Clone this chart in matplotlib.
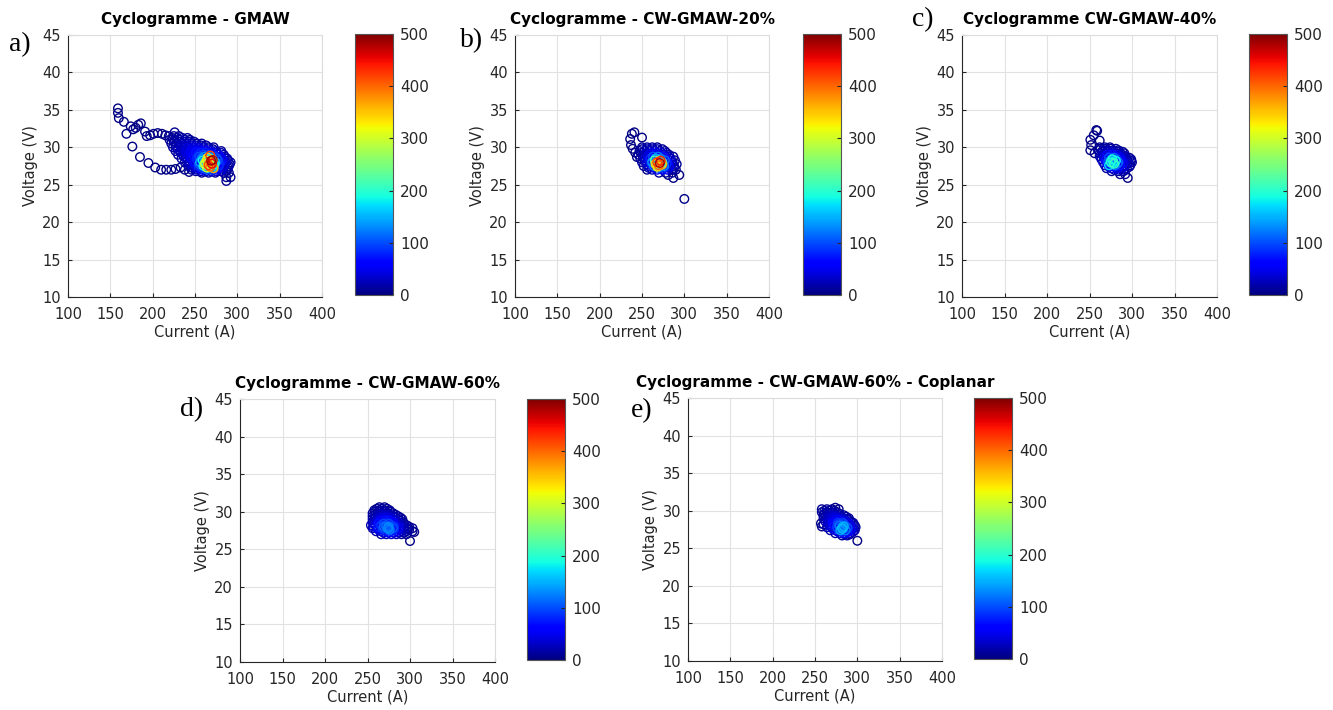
import matplotlib
matplotlib.use("Agg")
import matplotlib.pyplot as plt
from matplotlib.colors import Normalize
from matplotlib.cm import ScalarMappable

# Each panel: voltage rows, the currents on each row and the point density per point,
# plus a list of loose points (tails, outliers, hot core).

# --- a) GMAW ---
a_rows_volt = [32.0, 31.5, 31.25, 31.0, 30.75, 30.5, 30.25, 30.0, 29.75, 29.5, 29.25, 29.0,
               28.75, 28.5, 28.25, 28.0, 27.75, 27.5, 27.25, 27.0, 26.8, 26.6, 26.0, 25.5]
a_rows_cur = [
    [226],
    [219, 225, 231],
    [223, 229, 235, 241],
    [220, 226, 232, 238, 244],
    [225, 231, 237, 243, 249],
    [222, 228, 234, 240, 246, 252, 258],
    [227, 233, 239, 245, 251, 257, 263],
    [224, 230, 236, 242, 248, 254, 260, 266, 272],
    [229, 235, 241, 247, 253, 259, 265, 271],
    [227, 233, 239, 245, 251, 257, 263, 269, 275, 281],
    [233, 239, 245, 251, 257, 263, 269, 275, 281],
    [230, 236, 242, 248, 254, 260, 266, 272, 278, 284],
    [237, 243, 249, 255, 261, 267, 273, 279, 285],
    [234, 240, 246, 252, 258, 264, 270, 276, 282, 288],
    [241, 247, 253, 259, 265, 271, 277, 283, 289],
    [238, 244, 250, 256, 262, 268, 274, 280, 286, 292],
    [243, 249, 255, 261, 267, 273, 279, 285, 291],
    [242, 248, 254, 260, 266, 272, 278, 284, 290],
    [247, 253, 259, 265, 271, 277, 283, 289],
    [246, 252, 258, 264, 270, 276, 282, 288],
    [251, 257, 263, 269, 275, 281, 287],
    [258, 266, 274, 284, 290],
    [287, 292],
    [287],
]
a_rows_dens = [
    [8],
    [8, 10, 10],
    [10, 12, 12, 10],
    [10, 14, 16, 14, 10],
    [14, 18, 20, 18, 12],
    [12, 18, 22, 24, 20, 14, 10],
    [18, 26, 30, 30, 24, 16, 10],
    [14, 22, 30, 36, 38, 34, 26, 16, 10],
    [18, 30, 42, 46, 44, 36, 24, 14],
    [14, 24, 38, 48, 56, 60, 52, 38, 22, 12],
    [18, 34, 54, 70, 80, 76, 56, 32, 14],
    [14, 26, 44, 62, 78, 92, 90, 70, 42, 18],
    [20, 38, 66, 100, 130, 130, 90, 50, 18],
    [14, 28, 50, 80, 130, 170, 160, 100, 50, 18],
    [22, 42, 80, 180, 250, 220, 100, 44, 16],
    [16, 30, 60, 140, 220, 260, 160, 70, 30, 12],
    [24, 46, 110, 240, 300, 200, 80, 34, 14],
    [18, 34, 80, 180, 240, 170, 80, 36, 16],
    [20, 40, 90, 170, 150, 70, 32, 14],
    [14, 28, 60, 100, 90, 50, 28, 14],
    [12, 18, 30, 34, 24, 16, 10],
    [10, 14, 12, 10, 8],
    [8, 8],
    [6],
]
a_loose_cur = [159, 159, 160, 166, 169, 174, 177, 180, 183, 186, 191, 193, 197, 201, 206, 211, 215,
               176, 185, 195, 203, 210, 216, 222, 227, 233, 238, 243,
               264, 268, 270, 266, 262, 268, 271, 265, 268, 272, 264, 269]
a_loose_volt = [35.2, 34.6, 33.9, 33.4, 31.8, 32.8, 32.4, 32.6, 33.0, 33.2, 32.1, 31.5, 31.6, 31.8,
                31.9, 31.8, 31.6,
                30.1, 28.7, 27.9, 27.3, 27.0, 27.0, 27.0, 27.1, 27.3, 27.0, 26.7,
                28.2, 28.0, 27.8, 27.6, 27.8, 27.4, 28.3, 28.6, 28.9, 27.2, 27.3, 28.2]
a_loose_dens = [3] * 28 + [320, 380, 450, 420, 300, 400, 470, 340, 420, 360, 300, 490]

# --- b) CW-GMAW-20% ---
b_rows_volt = [30.0, 29.75, 29.5, 29.25, 29.0, 28.75, 28.5, 28.25, 28.0, 27.75, 27.5, 27.25,
               27.0, 26.6]
b_rows_cur = [
    [250, 256, 262, 268],
    [250, 256, 262, 268, 274],
    [247, 253, 259, 265, 271, 277],
    [249, 255, 261, 267, 273, 279],
    [246, 252, 258, 264, 270, 276, 282],
    [251, 257, 263, 269, 275, 281, 287],
    [248, 254, 260, 266, 272, 278, 284],
    [253, 259, 265, 271, 277, 283, 289],
    [250, 256, 262, 268, 274, 280, 286],
    [255, 261, 267, 273, 279, 285, 291],
    [252, 258, 264, 270, 276, 282, 288],
    [258, 264, 270, 276, 282, 288],
    [256, 262, 268, 274, 280, 286, 290],
    [270, 278, 286],
]
b_rows_dens = [
    [10, 14, 14, 10],
    [12, 20, 22, 16, 10],
    [10, 18, 26, 26, 18, 10],
    [14, 28, 44, 48, 34, 16],
    [10, 20, 40, 56, 48, 28, 12],
    [16, 44, 100, 120, 70, 26, 10],
    [12, 30, 80, 150, 120, 50, 16],
    [18, 70, 220, 260, 110, 36, 12],
    [12, 40, 140, 300, 220, 70, 20],
    [20, 80, 250, 230, 80, 30, 10],
    [12, 30, 120, 260, 130, 50, 16],
    [14, 40, 110, 80, 36, 14],
    [10, 20, 50, 60, 34, 14, 8],
    [10, 12, 8],
]
b_loose_cur = [236, 238, 241, 237, 239, 242, 244, 250, 300, 294, 287, 281,
               268, 271, 270, 266, 272, 268, 274]
b_loose_volt = [31.1, 31.8, 32.0, 30.3, 29.8, 29.3, 28.7, 31.3, 23.1, 26.3, 25.9, 26.3,
                28.0, 27.9, 27.6, 27.8, 28.2, 27.4, 27.7]
b_loose_dens = [3, 3, 3, 3, 3, 3, 4, 3, 2, 3, 3, 4,
                420, 480, 400, 340, 440, 330, 360]

# --- c) CW-GMAW-40% ---
c_rows_volt = [30.0, 29.8, 29.6, 29.4, 29.2, 29.0, 28.8, 28.6, 28.4, 28.2, 28.0, 27.8, 27.6,
               27.4, 27.2, 27.0, 26.8, 26.4]
c_rows_cur = [
    [262, 268, 274],
    [263, 269, 275, 281],
    [260, 266, 272, 278, 284],
    [265, 271, 277, 283, 289],
    [262, 268, 274, 280, 286, 291],
    [265, 271, 277, 283, 289],
    [262, 268, 274, 280, 286, 292],
    [267, 273, 279, 285, 291, 297],
    [264, 270, 276, 282, 288, 294, 299],
    [269, 275, 281, 287, 293, 299],
    [266, 272, 278, 284, 290, 296, 300],
    [271, 277, 283, 289, 295],
    [268, 274, 280, 286, 292, 298],
    [273, 279, 285, 291, 297],
    [270, 276, 282, 288, 294],
    [279, 285, 291],
    [276, 284, 290],
    [286, 292],
]
c_rows_dens = [
    [8, 12, 10],
    [10, 14, 14, 10],
    [10, 16, 20, 14, 10],
    [18, 28, 26, 18, 10],
    [14, 26, 34, 28, 16, 10],
    [26, 50, 60, 40, 20],
    [16, 40, 70, 60, 30, 14],
    [40, 100, 110, 60, 26, 12],
    [20, 70, 130, 90, 40, 16, 10],
    [60, 150, 130, 60, 26, 12],
    [24, 100, 180, 110, 44, 18, 12],
    [60, 150, 100, 44, 20],
    [20, 80, 120, 70, 30, 14],
    [40, 70, 50, 24, 12],
    [14, 36, 50, 34, 16],
    [20, 24, 16],
    [10, 14, 12],
    [8, 8],
]
c_loose_cur = [251, 252, 251, 255, 258, 259, 262, 256, 295,
               275, 277, 279, 273, 281]
c_loose_volt = [31.0, 30.3, 29.6, 31.6, 32.3, 32.2, 30.9, 29.2, 25.9,
                28.0, 28.4, 27.8, 27.6, 28.2]
c_loose_dens = [3, 3, 3, 3, 3, 4, 3, 4, 3,
                200, 190, 210, 170, 180]

# --- d) CW-GMAW-60% ---
d_rows_volt = [30.6, 30.4, 30.2, 30.0, 29.8, 29.6, 29.4, 29.2, 29.0, 28.8, 28.6, 28.4, 28.2,
               28.0, 27.8, 27.6, 27.4, 27.2, 27.0]
d_rows_cur = [
    [264, 270],
    [261, 267, 273],
    [258, 264, 270, 276],
    [259, 265, 271, 277],
    [256, 262, 268, 274, 280],
    [259, 265, 271, 277, 283],
    [256, 262, 268, 274, 280, 286],
    [259, 265, 271, 277, 283, 289],
    [256, 262, 268, 274, 280, 286, 291],
    [259, 265, 271, 277, 283, 289],
    [256, 262, 268, 274, 280, 286, 292],
    [257, 263, 269, 275, 281, 287, 293],
    [254, 260, 266, 272, 278, 284, 290, 296],
    [257, 263, 269, 275, 281, 287, 293, 299],
    [256, 262, 268, 274, 280, 286, 292, 298, 303],
    [263, 269, 275, 281, 287, 293, 299],
    [260, 266, 272, 278, 284, 290, 296, 303],
    [269, 275, 281, 287, 293],
    [266, 272, 278, 284, 290, 296],
]
d_rows_dens = [
    [6, 8],
    [8, 12, 10],
    [8, 12, 12, 8],
    [10, 16, 16, 10],
    [10, 16, 20, 18, 10],
    [14, 26, 28, 20, 10],
    [12, 22, 30, 30, 20, 10],
    [20, 40, 46, 36, 20, 10],
    [14, 30, 46, 50, 36, 16, 8],
    [26, 56, 70, 56, 30, 14],
    [18, 40, 66, 74, 56, 26, 10],
    [30, 70, 96, 96, 66, 30, 14],
    [16, 46, 86, 100, 84, 40, 18, 10],
    [34, 76, 110, 126, 90, 40, 18, 10],
    [20, 50, 90, 120, 100, 50, 24, 12, 8],
    [40, 80, 100, 80, 40, 20, 10],
    [18, 40, 70, 80, 50, 26, 14, 8],
    [30, 46, 40, 24, 12],
    [14, 24, 30, 24, 12, 8],
]
d_loose_cur = [300, 305, 274, 276, 272]
d_loose_volt = [26.1, 27.3, 27.8, 27.6, 28.0]
d_loose_dens = [3, 4, 130, 125, 115]

# --- e) CW-GMAW-60% - Coplanar ---
e_rows_volt = [30.2, 30.0, 29.8, 29.6, 29.4, 29.2, 29.0, 28.8, 28.6, 28.4, 28.2, 28.0, 27.8,
               27.6, 27.4, 27.2, 27.0, 26.85, 26.7]
e_rows_cur = [
    [258, 264, 270],
    [261, 267, 273],
    [258, 264, 270, 276],
    [261, 267, 273, 279],
    [260, 266, 272, 278, 284],
    [263, 269, 275, 281, 287],
    [260, 266, 272, 278, 284, 290],
    [265, 271, 277, 283, 289],
    [262, 268, 274, 280, 286, 292],
    [265, 271, 277, 283, 289, 295],
    [260, 266, 272, 278, 284, 290, 296],
    [267, 273, 279, 285, 291, 297],
    [264, 270, 276, 282, 288, 294, 298],
    [271, 277, 283, 289, 295],
    [268, 274, 280, 286, 292, 297],
    [277, 283, 289, 295],
    [274, 280, 286, 292],
    [285, 291],
    [282, 288],
]
e_rows_dens = [
    [8, 10, 8],
    [12, 14, 10],
    [10, 16, 14, 10],
    [14, 20, 22, 12],
    [12, 22, 26, 16, 8],
    [20, 34, 36, 22, 10],
    [14, 28, 40, 36, 20, 10],
    [26, 46, 56, 40, 16],
    [16, 34, 56, 66, 40, 16],
    [30, 56, 86, 90, 44, 14],
    [12, 30, 60, 100, 96, 46, 16],
    [36, 70, 120, 110, 46, 14],
    [16, 40, 90, 140, 100, 40, 14],
    [40, 90, 130, 80, 30],
    [18, 46, 110, 120, 50, 16],
    [40, 80, 60, 20],
    [14, 40, 50, 24],
    [16, 12],
    [10, 14],
]
e_loose_cur = [300, 274, 278, 257, 258, 282, 284, 280]
e_loose_volt = [26.0, 30.4, 30.2, 28.3, 27.9, 27.6, 27.9, 27.4]
e_loose_dens = [3, 4, 4, 5, 5, 155, 150, 140]

titles = ["Cyclogramme - GMAW", "Cyclogramme - CW-GMAW-20%", "Cyclogramme CW-GMAW-40%",
          "Cyclogramme - CW-GMAW-60%", "Cyclogramme - CW-GMAW-60% - Coplanar"]
letters = ["a)", "b)", "c)", "d)", "e)"]
cbar_ticks = [0, 100, 200, 300, 400, 500]
x_ticks = [100, 150, 200, 250, 300, 350, 400]
y_ticks = [10, 15, 20, 25, 30, 35, 40, 45]

W, H = 1333, 710
# pixel boxes (left, top, right, bottom)
ax_boxes = [(68, 35, 322, 297), (515, 35, 769, 297), (962, 35, 1217, 297),
            (240, 399, 495, 662), (688, 398, 942, 661)]
cb_boxes = [(355, 34, 393, 295), (803, 34, 841, 295), (1249, 34, 1287, 295),
            (527, 399, 565, 660), (974, 398, 1012, 659)]
letter_pos = [(20, 45), (472, 41), (923, 20), (192, 410), (642, 411)]


def frac(box):
    l, t, r, b = box
    return [l / W, 1 - b / H, (r - l) / W, (b - t) / H]


def flatten(rows_volt, rows_cur, rows_dens, loose_cur, loose_volt, loose_dens):
    cur, volt, dens = [], [], []
    for v, cs, ds in zip(rows_volt, rows_cur, rows_dens):
        cur += cs
        volt += [v] * len(cs)
        dens += ds
    return cur + loose_cur, volt + loose_volt, dens + loose_dens


def main():
    cmap = plt.get_cmap("jet")
    norm = Normalize(vmin=0, vmax=500)
    fig = plt.figure(figsize=(W / 100, H / 100), dpi=100)

    data = [
        flatten(a_rows_volt, a_rows_cur, a_rows_dens, a_loose_cur, a_loose_volt, a_loose_dens),
        flatten(b_rows_volt, b_rows_cur, b_rows_dens, b_loose_cur, b_loose_volt, b_loose_dens),
        flatten(c_rows_volt, c_rows_cur, c_rows_dens, c_loose_cur, c_loose_volt, c_loose_dens),
        flatten(d_rows_volt, d_rows_cur, d_rows_dens, d_loose_cur, d_loose_volt, d_loose_dens),
        flatten(e_rows_volt, e_rows_cur, e_rows_dens, e_loose_cur, e_loose_volt, e_loose_dens),
    ]

    for i, (cur, volt, dens) in enumerate(data):
        ax = fig.add_axes(frac(ax_boxes[i]))
        # low density first so the hot core is drawn on top
        order = sorted(range(len(dens)), key=lambda k: dens[k])
        xs = [cur[k] for k in order]
        ys = [volt[k] for k in order]
        cs = cmap(norm([dens[k] for k in order]))
        ax.scatter(xs, ys, s=38, facecolors="none", edgecolors=cs, linewidths=1.0, zorder=3)

        ax.set_xlim(100, 400)
        ax.set_ylim(10, 45)
        ax.set_xticks(x_ticks)
        ax.set_yticks(y_ticks)
        ax.grid(True, color="#e2e2e2", linewidth=0.8)
        ax.set_axisbelow(True)
        for s in ["top", "right"]:
            ax.spines[s].set_color("#dcdcdc")
        for s in ["left", "bottom"]:
            ax.spines[s].set_color("#262626")
            ax.spines[s].set_linewidth(0.8)
        ax.tick_params(direction="in", length=3, labelsize=10.5, colors="#262626",
                       top=False, right=False)
        ax.tick_params(axis="x", pad=7)
        ax.tick_params(axis="y", pad=5)
        ax.set_xlabel("Current (A)", fontsize=10.5, color="#262626", labelpad=2)
        ax.set_ylabel("Voltage (V)", fontsize=10.5, color="#262626", labelpad=3)
        ax.set_title(titles[i], fontsize=11, fontweight="bold", pad=8)

        cax = fig.add_axes(frac(cb_boxes[i]))
        cb = fig.colorbar(ScalarMappable(norm=norm, cmap=cmap), cax=cax, ticks=cbar_ticks)
        cb.outline.set_edgecolor("#555555")
        cb.outline.set_linewidth(0.8)
        cax.tick_params(direction="in", length=3, labelsize=11, colors="#262626", pad=5)

        lx, ly = letter_pos[i]
        fig.text(lx / W, 1 - ly / H, letters[i], fontsize=20, family="Liberation Serif",
                 ha="center", va="center")

    fig.savefig("out.png", dpi=100)


if __name__ == "__main__":
    main()
